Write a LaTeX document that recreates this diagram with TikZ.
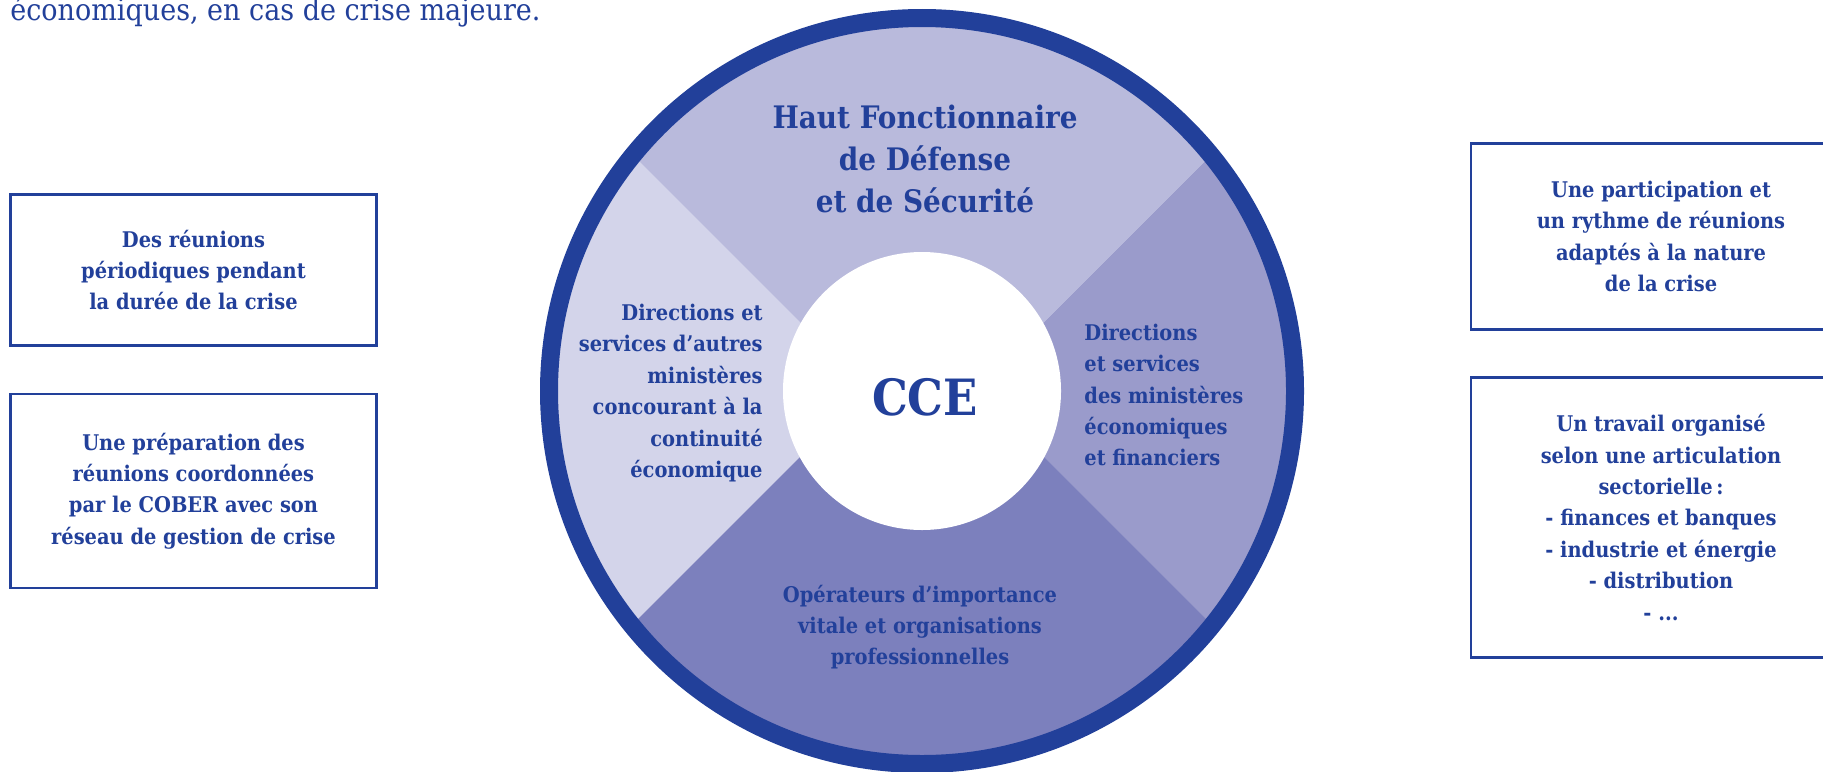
\documentclass[tikz,border=0pt]{standalone}
\usepackage{fontspec}
\setmainfont{DejaVu Serif Condensed}
\definecolor{ccedark}{HTML}{22409A}
\definecolor{sectop}{HTML}{B9BADC}
\definecolor{secleft}{HTML}{D3D4EA}
\definecolor{secright}{HTML}{9A9BCB}
\definecolor{secbottom}{HTML}{7C80BD}
\newcommand\boxfont{\bfseries\fontsize{10.8}{15.7}\selectfont}
\begin{document}
\begin{tikzpicture}[x=0.5pt,y=-0.5pt,
  infobox/.style={draw=ccedark,line width=1.3pt,align=center,text=ccedark,font=\boxfont},
  sectortext/.style={inner sep=0pt,text=ccedark,font=\boxfont}]
\useasboundingbox (0,0) rectangle (1823,771);
\clip (0,0) rectangle (1823,771);
\node[anchor=base west,inner sep=0pt,text=ccedark,font=\fontsize{15}{18}\selectfont] (intro) at (10,20) {économiques, en cas de crise majeure.};
\coordinate (c) at (922,391);
\begin{scope}
\clip (c) circle[radius=186.5pt];
\fill[secleft] (c) circle[radius=186.5pt];
\fill[secright] (976.5,389.5) -- ++(600,-600) -- ++(0,1200) -- cycle;
\fill[sectop] (922,444) -- ++(-600,-600) -- ++(1200,0) -- cycle;
\fill[secbottom] (922,335) -- ++(-600,600) -- ++(1200,0) -- cycle;
\end{scope}
\draw[ccedark,line width=9pt] (c) circle[radius=186.5pt];
\fill[white] (c) circle[radius=69.5pt];
\node[text=ccedark,inner sep=0pt,font=\bfseries\fontsize{25}{25}\selectfont] (cce) at (925,397) {CCE};
\node[sectortext,align=center,font=\bfseries\fontsize{15.5}{21}\selectfont] (hfds) at (925,159) {Haut Fonctionnaire\\de Défense\\et de Sécurité};
\node[sectortext,align=right,anchor=east] (autres) at (763,393) {Directions et\\services d’autres\\ministères\\concourant à la\\continuité\\économique};
\node[sectortext,align=left,anchor=west] (minefi) at (1084,395) {Directions\\et services\\des ministères\\économiques\\et financiers};
\node[sectortext,align=center] (oiv) at (920,627) {Opérateurs d’importance\\vitale et organisations\\professionnelles};
\node[infobox,minimum width=183pt,minimum height=75.5pt] (periodiques) at (193.5,270) {Des réunions\\périodiques pendant\\la durée de la crise};
\node[infobox,minimum width=183pt,minimum height=97pt] (cober) at (193.5,491) {Une préparation des\\réunions coordonnées\\par le COBER avec son\\réseau de gestion de crise};
\node[infobox,minimum width=190pt,minimum height=93pt] (rythme) at (1661,236.5) {Une participation et\\un rythme de réunions\\adaptés à la nature\\de la crise};
\node[infobox,minimum width=190pt,minimum height=140pt] (secteurs) at (1661,517.5) {Un travail organisé\\selon une articulation\\sectorielle\,:\\- finances et banques\\- industrie et énergie\\- distribution\\- ...};
\end{tikzpicture}
\end{document}
